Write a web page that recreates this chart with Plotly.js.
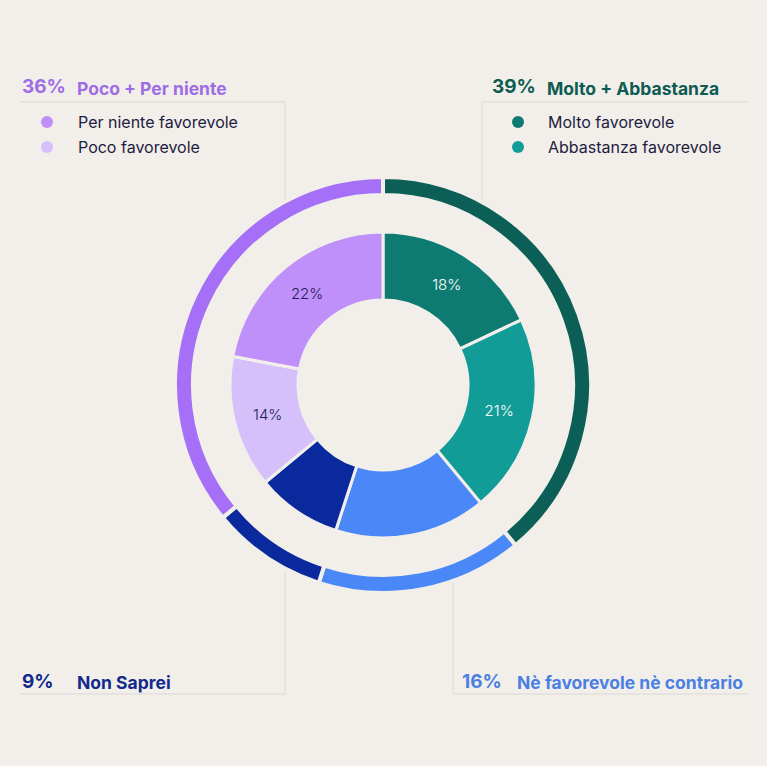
<!DOCTYPE html>
<html>
<head>
<meta charset="utf-8">
<script src="https://cdn.plot.ly/plotly-3.0.1.min.js"></script>
<style>html,body{margin:0;padding:0;background:#f2efeb;}#chart{width:767px;height:766px;}</style>
</head>
<body>
<div id="chart"></div>
<script>
// Inner ring: detailed answers
const innerLabels = ["Molto favorevole", "Abbastanza favorevole", "Nè favorevole nè contrario", "Non Saprei", "Poco favorevole", "Per niente favorevole"];
const innerValues = [18, 21, 16, 9, 14, 22];
const innerShown = ["18%", "21%", "", "", "14%", "22%"];
const innerColors = ["#0e7b73", "#129c98", "#4a87f7", "#0a299d", "#d5c0fb", "#bf90f9"];
const innerTextColors = ["#ffffff", "#ffffff", "#ffffff", "#ffffff", "#1d2156", "#1d2156"];

// Outer ring: grouped answers
const outerLabels = ["Molto + Abbastanza", "Nè favorevole nè contrario", "Non Saprei", "Poco + Per niente"];
const outerValues = [39, 16, 9, 36];
const outerColors = ["#0b5f56", "#4a87f7", "#0a299d", "#a66ff7"];

// Header / legend texts
const groupPct = ["36%", "39%", "9%", "16%"];
const groupNames = ["Poco + Per niente", "Molto + Abbastanza", "Non Saprei", "Nè favorevole nè contrario"];
const groupTextColors = ["#9e6de6", "#0d5b51", "#112a8c", "#4b80e2"];
const legendLeft = ["Per niente favorevole", "Poco favorevole"];
const legendLeftColors = ["#bf90f9", "#d5c0fb"];
const legendRight = ["Molto favorevole", "Abbastanza favorevole"];
const legendRightColors = ["#0e7b73", "#129c98"];

const W = 767, H = 766;
const px = x => x / W;
const py = y => 1 - y / H;
const cx = 383, cy = 385;
const rOut = 208, rIn = 153;
const bg = "#f2efeb";
const font = "Inter, 'Open Sans', sans-serif";

const data = [
  {
    type: "pie", values: outerValues, labels: outerLabels, sort: false,
    direction: "clockwise", rotation: 0, hole: 190 / 208,
    marker: {colors: outerColors, line: {color: bg, width: 4}},
    textinfo: "none", hoverinfo: "label+value", showlegend: false,
    domain: {x: [px(cx - rOut), px(cx + rOut)], y: [py(cy + rOut), py(cy - rOut)]}
  },
  {
    type: "pie", values: innerValues, labels: innerLabels, sort: false,
    direction: "clockwise", rotation: 0, hole: 85 / 153,
    marker: {colors: innerColors, line: {color: bg, width: 3}},
    text: innerShown, textinfo: "text", textposition: "inside",
    insidetextorientation: "horizontal",
    textfont: {family: font, size: 15, color: innerTextColors, weight: 300},
    hoverinfo: "label+value", showlegend: false,
    domain: {x: [px(cx - rIn), px(cx + rIn)], y: [py(cy + rIn), py(cy - rIn)]}
  }
];

const lineStyle = {color: "#dcd8d3", width: 1};
const shapes = [
  {type: "line", xref: "paper", yref: "paper", x0: px(20), x1: px(285), y0: py(102), y1: py(102), line: lineStyle, layer: "below"},
  {type: "line", xref: "paper", yref: "paper", x0: px(285), x1: px(285), y0: py(102), y1: py(200), line: lineStyle, layer: "below"},
  {type: "line", xref: "paper", yref: "paper", x0: px(482), x1: px(747), y0: py(102), y1: py(102), line: lineStyle, layer: "below"},
  {type: "line", xref: "paper", yref: "paper", x0: px(482), x1: px(482), y0: py(102), y1: py(200), line: lineStyle, layer: "below"},
  {type: "line", xref: "paper", yref: "paper", x0: px(20), x1: px(285), y0: py(694), y1: py(694), line: lineStyle, layer: "below"},
  {type: "line", xref: "paper", yref: "paper", x0: px(285), x1: px(285), y0: py(570), y1: py(694), line: lineStyle, layer: "below"},
  {type: "line", xref: "paper", yref: "paper", x0: px(453), x1: px(747), y0: py(694), y1: py(694), line: lineStyle, layer: "below"},
  {type: "line", xref: "paper", yref: "paper", x0: px(453), x1: px(453), y0: py(580), y1: py(694), line: lineStyle, layer: "below"}
];
function dot(x, y, c) {
  return {type: "circle", xref: "paper", yref: "paper", x0: px(x - 6), x1: px(x + 6), y0: py(y + 6), y1: py(y - 6), fillcolor: c, line: {width: 0}};
}
shapes.push(dot(47, 122, legendLeftColors[0]), dot(47, 147, legendLeftColors[1]),
            dot(518, 122, legendRightColors[0]), dot(518, 147, legendRightColors[1]));

function ann(text, x, y, size, color, weight) {
  return {text: text, xref: "paper", yref: "paper", x: px(x), y: py(y), xanchor: "left", yanchor: "middle",
          showarrow: false, font: {family: font, size: size, color: color, weight: weight}};
}
const annotations = [
  ann(groupPct[0], 20, 87, 19, groupTextColors[0], 700),
  ann(groupNames[0], 75, 88, 17.5, groupTextColors[0], 700),
  ann(groupPct[1], 490, 87, 19, groupTextColors[1], 700),
  ann(groupNames[1], 545, 88, 17.5, groupTextColors[1], 700),
  ann(groupPct[2], 20, 681, 19, groupTextColors[2], 700),
  ann(groupNames[2], 75, 682, 17.5, groupTextColors[2], 700),
  ann(groupPct[3], 460, 681, 19, groupTextColors[3], 700),
  ann(groupNames[3], 515, 682, 17.5, groupTextColors[3], 700),
  ann(legendLeft[0], 76, 122, 16, "#1d2140", 400),
  ann(legendLeft[1], 76, 147, 16, "#1d2140", 400),
  ann(legendRight[0], 546, 122, 16, "#1d2140", 400),
  ann(legendRight[1], 546, 147, 16, "#1d2140", 400)
];

const layout = {
  width: W, height: H, margin: {l: 0, r: 0, t: 0, b: 0},
  paper_bgcolor: bg, plot_bgcolor: bg, showlegend: false,
  shapes: shapes, annotations: annotations
};
Plotly.newPlot("chart", data, layout, {displayModeBar: false, staticPlot: true});
</script>
</body>
</html>
